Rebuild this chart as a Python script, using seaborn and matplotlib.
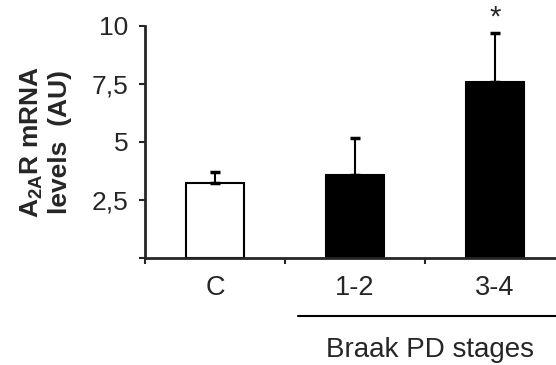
import matplotlib
matplotlib.use("Agg")
import matplotlib.pyplot as plt
import seaborn as sns
import pandas as pd

# data
groups = ["C", "1-2", "3-4"]
means = [3.23, 3.58, 7.59]
sem_up = [0.47, 1.59, 2.11]
bar_colors = ["white", "black", "black"]
y_ticks = [0, 2.5, 5, 7.5, 10]
y_tick_labels = ["", "2,5", "5", "7,5", "10"]

sns.set_style("ticks")
plt.rcParams["font.family"] = ["Liberation Sans", "DejaVu Sans"]
plt.rcParams["mathtext.fontset"] = "custom"
plt.rcParams["mathtext.rm"] = "Liberation Sans:bold"
plt.rcParams["mathtext.bf"] = "Liberation Sans:bold"

df = pd.DataFrame({"group": groups, "value": means})

fig = plt.figure(figsize=(5.56, 3.65), dpi=100)
ax = fig.add_axes([0.261, 0.293, 0.739, 0.636])

sns.barplot(data=df, x="group", y="value", hue="group", palette=bar_colors,
            edgecolor="black", linewidth=1.5, width=0.41, legend=False, ax=ax)

# upper error bars only
ax.errorbar(range(len(groups)), means, yerr=[[0] * len(groups), sem_up],
            fmt="none", ecolor="black", elinewidth=1.5, capsize=3.5, capthick=2.5)

# significance mark
ax.text(2, means[2] + sem_up[2] + 0.05, "*", ha="center", va="bottom",
        fontsize=21, clip_on=False)

ax.set_ylim(0, 10)
ax.set_xlim(-0.5, 2.436)
ax.set_yticks(y_ticks)
ax.set_yticklabels(y_tick_labels)
ax.set_xticks(range(len(groups)))
ax.set_xticklabels(groups)
ax.set_xticks([-0.5, 0.5, 1.5], minor=True)
ax.tick_params(axis="x", which="major", length=0, pad=12, labelsize=19.5)
ax.tick_params(axis="x", which="minor", length=4, width=1.5, direction="out")
ax.tick_params(axis="y", length=4, width=1.5, direction="out", pad=8, labelsize=19)

for side in ["top", "right"]:
    ax.spines[side].set_visible(False)
for side in ["left", "bottom"]:
    ax.spines[side].set_linewidth(2)

ax.set_xlabel("")
ax.set_ylabel("A$_{\\mathbf{2A}}$R mRNA\nlevels  (AU)", fontsize=19,
              fontweight="bold", linespacing=1.15)
ax.yaxis.set_label_coords(-0.178, 0.5)

# group bracket line and label below the axis
fig.add_artist(plt.Line2D([0.536, 1.0], [0.134, 0.134], color="black", lw=1.5))
fig.text(0.774, 0.041, "Braak PD stages", ha="center", va="center", fontsize=20)

fig.savefig("out.png", dpi=100)
